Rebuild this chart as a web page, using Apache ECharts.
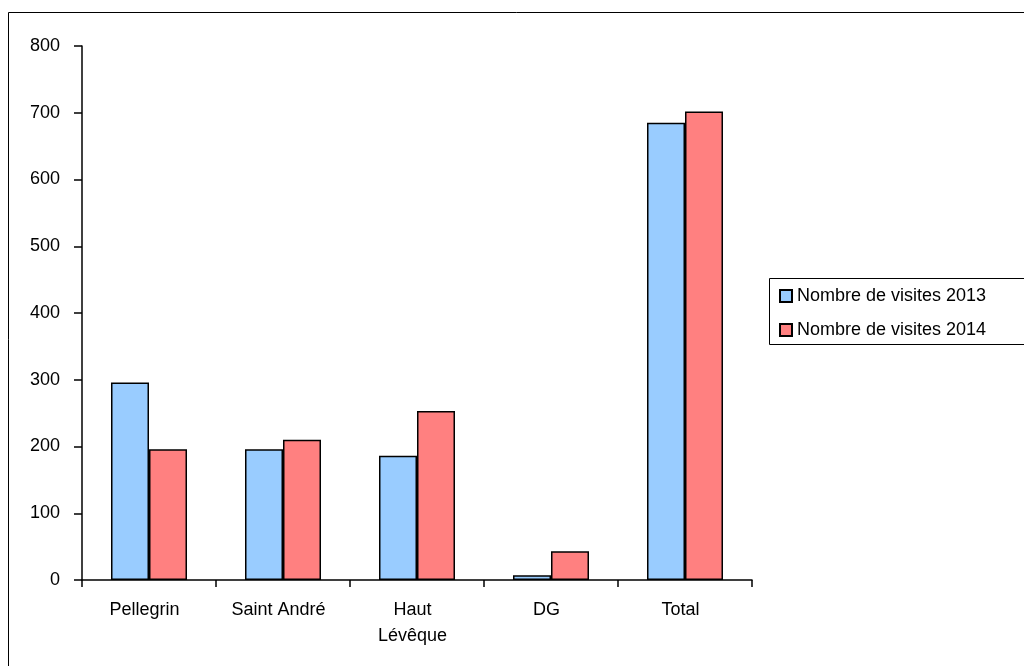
<!DOCTYPE html>
<html>
<head>
<meta charset="utf-8">
<script src="https://cdn.jsdelivr.net/npm/echarts@6/dist/echarts.min.js"></script>
<style>
html,body{margin:0;padding:0;background:#fff;}
#chart{width:1024px;height:666px;}
</style>
</head>
<body>
<div id="chart"></div>
<script>
const categories = ['Pellegrin', 'Saint André', 'Haut\nLévêque', 'DG', 'Total'];
const visits2013 = [296, 196, 186, 7, 685];
const visits2014 = [196, 210, 253, 43, 702];
const seriesNames = ['Nombre de visites 2013', 'Nombre de visites 2014'];
const yTicks = { min: 0, max: 800, interval: 100 };

const FONT = '"Liberation Sans", Arial, sans-serif';
const chart = echarts.init(document.getElementById('chart'), null, { renderer: 'canvas' });
chart.setOption({
  backgroundColor: '#fff',
  animation: false,
  textStyle: { fontFamily: FONT },
  graphic: [
    { type: 'rect', shape: { x: 8.5, y: 12.5, width: 1100, height: 700 }, style: { fill: 'none', stroke: '#000', lineWidth: 1 }, silent: true },
    { type: 'rect', shape: { x: 769.5, y: 278.5, width: 300, height: 66 }, style: { fill: '#fff', stroke: '#000', lineWidth: 1 }, silent: true, z: 1 }
  ],
  legend: {
    orient: 'vertical',
    left: 779,
    top: 286,
    padding: 0,
    itemGap: 14,
    itemWidth: 12,
    itemHeight: 12,
    icon: 'rect',
    z: 10,
    textStyle: { fontFamily: FONT, fontSize: 18, color: '#000', lineHeight: 20 },
    data: seriesNames
  },
  grid: { left: 82, right: 272, top: 46, bottom: 86, containLabel: false },
  xAxis: {
    type: 'category',
    data: categories,
    axisLine: { lineStyle: { color: '#000', width: 1.5 } },
    axisTick: { show: true, length: 7, lineStyle: { color: '#000', width: 1.5 } },
    axisLabel: { fontFamily: FONT, fontSize: 18, color: '#000', margin: 17, lineHeight: 26, interval: 0, padding: [0, 9, 0, 0] }
  },
  yAxis: {
    type: 'value',
    min: yTicks.min,
    max: yTicks.max,
    interval: yTicks.interval,
    splitLine: { show: false },
    axisLine: { show: true, lineStyle: { color: '#000', width: 1.5 } },
    axisTick: { show: true, length: 8, lineStyle: { color: '#000', width: 1.5 } },
    axisLabel: { fontFamily: FONT, fontSize: 18, color: '#000', margin: 22 }
  },
  series: [
    {
      name: seriesNames[0], type: 'bar', data: visits2013, barWidth: 38, barGap: '0%',
      itemStyle: { color: '#99CCFF', borderColor: '#000', borderWidth: 1.5 }
    },
    {
      name: seriesNames[1], type: 'bar', data: visits2014, barWidth: 38, barGap: '0%',
      itemStyle: { color: '#FF8080', borderColor: '#000', borderWidth: 1.5 }
    }
  ]
});
</script>
</body>
</html>
